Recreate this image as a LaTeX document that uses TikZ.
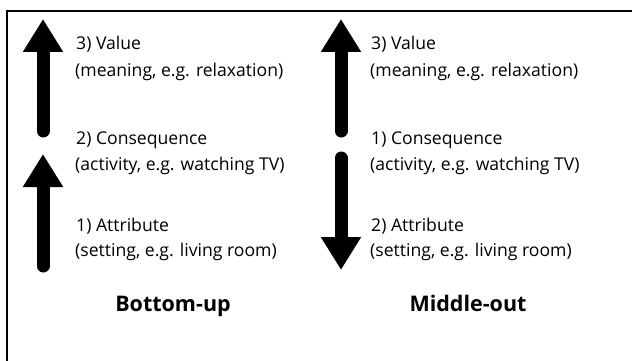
\documentclass[tikz,border=0pt]{standalone}
\usepackage{fontspec}
\setmainfont{Open Sans}
\usetikzlibrary{arrows.meta}
\tikzset{
  bigarrow/.style={line width=13pt, line cap=round, -{Triangle[length=33pt,width=38pt]}},
  lbl/.style={anchor=base west, inner sep=0pt, font=\fontsize{17.6}{20}\selectfont},
  ttl/.style={anchor=base, inner sep=0pt, font=\fontsize{21.5}{24}\selectfont\bfseries}
}
\begin{document}
\begin{tikzpicture}[x=1pt,y=-1pt]
\useasboundingbox (0,0) rectangle (632,361);
\draw[line width=1.6pt] (7,361) -- (7,11) -- (632,11);
% left column
\coordinate (l1s) at (43,131);
\coordinate (l1e) at (43,19);
\coordinate (l2s) at (43,266);
\coordinate (l2e) at (43,154);
\draw[bigarrow] (l1s) -- (l1e);
\draw[bigarrow] (l2s) -- (l2e);
\node[lbl] (lv1) at (76,50) {3) Value};
\node[lbl] (lv2) at (75,76.7) {(meaning, e.g. relaxation)};
\node[lbl] (lc1) at (76,144) {2) Consequence};
\node[lbl] (lc2) at (75,170.7) {(activity, e.g. watching TV)};
\node[lbl] (la1) at (76,231.7) {1) Attribute};
\node[lbl] (la2) at (75,256.7) {(setting, e.g. living room)};
\node[ttl] (lt) at (173,311.7) {Bottom-up};
% right column
\coordinate (r1s) at (341,131);
\coordinate (r1e) at (341,19);
\coordinate (r2s) at (341,158);
\coordinate (r2e) at (341,270);
\draw[bigarrow] (r1s) -- (r1e);
\draw[bigarrow] (r2s) -- (r2e);
\node[lbl] (rv1) at (371,50) {3) Value};
\node[lbl] (rv2) at (370,76.7) {(meaning, e.g. relaxation)};
\node[lbl] (rc1) at (371,144) {1) Consequence};
\node[lbl] (rc2) at (370,170.7) {(activity, e.g. watching TV)};
\node[lbl] (ra1) at (371,231.7) {2) Attribute};
\node[lbl] (ra2) at (370,256.7) {(setting, e.g. living room)};
\node[ttl] (rt) at (468,311.7) {Middle-out};
\end{tikzpicture}
\end{document}
